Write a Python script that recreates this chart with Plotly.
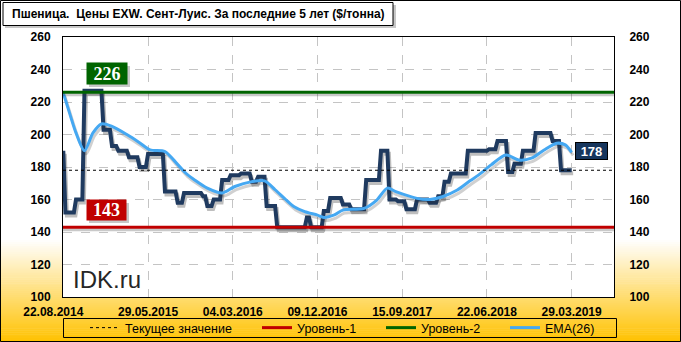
import plotly.graph_objects as go
import pandas as pd

# ---------------- data ----------------
title_text = "Пшеница.  Цены EXW. Сент-Луис. За последние 5 лет ($/тонна)"
start_date = "2014-08-22"

price = [
    190,
    152, 152, 152, 152, 152,
    160, 160, 160, 160,
    227, 227, 227, 227, 227, 227, 227, 227, 227,
    203, 203, 203, 203,
    193, 193, 193,
    190, 190, 190, 190, 190,
    186, 186, 186, 186, 186,
    180, 180, 180, 180,
    188, 188, 188, 188, 188, 188, 188, 188,
    165, 165, 165, 165, 165, 165,
    158, 158, 158,
    164, 164, 164, 164, 164, 164, 164, 164, 164,
    162, 162,
    156, 156, 156,
    160, 160, 160, 160,
    172, 172, 172, 172,
    175, 175, 175, 175, 175,
    176, 176, 176, 176, 176,
    171, 171, 171,
    174, 174, 174, 174,
    156, 156, 156, 156, 156,
    143, 143, 143, 143, 143, 143, 143, 143, 143, 143, 143, 143, 143, 143,
    149, 149,
    143, 143, 143, 143, 143, 143,
    153, 153, 153,
    161, 161, 161, 161, 161, 161,
    157, 157, 157, 157,
    154, 154, 154, 154, 154, 154, 154,
    172, 172, 172, 172, 172, 172, 172,
    190, 190, 190, 190,
    160, 160, 160, 160,
    159, 159, 159, 159,
    154, 154, 154, 154, 154,
    160, 160, 160, 160, 160, 160,
    158, 158, 158, 158,
    162, 162, 162,
    171, 171, 171,
    176, 176, 176, 176, 176, 176, 176, 176,
    190, 190, 190, 190, 190, 190, 190, 190, 190, 190,
    191, 191, 191, 191,
    196, 196, 196, 196, 196,
    177, 177, 177,
    182, 182, 182, 182,
    190, 190, 190, 190, 190, 190,
    201, 201, 201, 201, 201, 201, 201, 201,
    196, 196, 196, 196,
    178, 178, 178, 178, 178, 178,
]

ema_weeks = [0, 3, 6, 10, 14, 18, 23, 30, 36, 41, 48, 53, 58, 62, 68, 75, 81, 89, 95,
             100, 105, 109, 114, 120, 123, 128, 132, 142, 148, 153, 157, 167, 173, 179,
             186, 192, 196, 202, 209, 215, 221, 227, 233, 237, 240]
ema_values = [225.5, 213, 201, 190, 201, 206.5, 205, 200, 195, 190.5, 189.5, 183, 176, 172,
              167, 164, 168, 171, 171.5, 166, 160, 155.5, 152.5, 150.4, 149, 150.5, 153.5,
              154.5, 159.6, 167, 164.8, 160.7, 160, 161.7, 165.8, 171.5, 175, 181.3, 187.4,
              184.3, 185.4, 190.5, 194.6, 193.6, 189]

level1 = 143
level2 = 226
tick_labels = ["22.08.2014", "29.05.2015", "04.03.2016", "09.12.2016",
               "15.09.2017", "22.06.2018", "29.03.2019"]
y_ticks = [100, 120, 140, 160, 180, 200, 220, 240, 260]
legend_names = ["Текущее значение", "Уровень-1", "Уровень-2", "EMA(26)"]
watermark = "IDK.ru"

# ---------------- derived ----------------
dates = pd.date_range(start_date, periods=len(price), freq="7D")
ema_dates = [dates[w] for w in ema_weeks]
current = price[-1]
tickvals = pd.to_datetime(tick_labels, format="%d.%m.%Y")
t0 = pd.Timestamp(start_date)
x_range = [t0 - pd.Timedelta(days=1), t0 + pd.Timedelta(days=1820)]
# first label sits left of its tick in the reference: pad it with no-break spaces
tick_text = [tick_labels[0] + "\u00a0" * 6] + tick_labels[1:]

W_PX, H_PX = 681, 342
L, R, T, B = 63, 67, 37, 45
PW, PH = W_PX - L - R, H_PX - T - B


def pxx(p):
    return (p - L) / PW


def pxy(p):
    return (H_PX - B - p) / PH


NAVY = "#1F3A5F"
BLUE = "#45A8F2"
RED = "#C00000"
GREEN = "#006400"
FONT = "Liberation Sans"
DASH = "3px,3px"

fig = go.Figure()

sh_dx = pd.Timedelta(days=5)
# shadows + main series
fig.add_trace(go.Scatter(x=dates + sh_dx, y=[v - 1.9 for v in price], mode="lines",
                         line=dict(color="rgba(40,40,40,0.30)", width=4),
                         showlegend=False, hoverinfo="skip"))
fig.add_trace(go.Scatter(x=dates, y=price, mode="lines",
                         line=dict(color=NAVY, width=4),
                         showlegend=False, hoverinfo="skip"))
fig.add_trace(go.Scatter(x=[d + sh_dx for d in ema_dates], y=[v - 1.9 for v in ema_values],
                         mode="lines", line=dict(color="rgba(40,40,40,0.22)", width=3,
                                                 shape="spline", smoothing=0.8),
                         showlegend=False, hoverinfo="skip"))
fig.add_trace(go.Scatter(x=ema_dates, y=ema_values, mode="lines", name=legend_names[3],
                         line=dict(color=BLUE, width=3, shape="spline", smoothing=0.8),
                         legend="legend4"))
for lv in (level1, level2):
    fig.add_trace(go.Scatter(x=x_range, y=[lv - 1.6, lv - 1.6], mode="lines",
                             line=dict(color="rgba(40,40,40,0.25)", width=3),
                             showlegend=False, hoverinfo="skip"))
fig.add_trace(go.Scatter(x=x_range, y=[level1, level1], mode="lines", name=legend_names[1],
                         line=dict(color=RED, width=3), legend="legend2"))
fig.add_trace(go.Scatter(x=x_range, y=[level2, level2], mode="lines", name=legend_names[2],
                         line=dict(color=GREEN, width=3), legend="legend3"))
fig.add_trace(go.Scatter(x=x_range, y=[current, current], mode="lines", name=legend_names[0],
                         line=dict(color="black", width=1, dash=DASH), legend="legend"))
# right axis carrier
fig.add_trace(go.Scatter(x=[dates[-1]], y=[current], yaxis="y2", mode="markers",
                         marker=dict(opacity=0), showlegend=False, hoverinfo="skip"))

# ---------------- background shapes ----------------
shapes = []
g_top, g_bot = 240, H_PX
n = 52
for i in range(n):
    y0 = g_top + (g_bot - g_top) * i / n
    y1 = g_top + (g_bot - g_top) * (i + 1) / n + 0.6
    f = (i + 0.5) / n
    r, g, b = 255, int(255 - f * (255 - 194)), int(255 - f * 255)
    shapes.append(dict(type="rect", xref="paper", yref="paper", layer="below",
                       x0=pxx(0), x1=pxx(W_PX), y0=pxy(y1), y1=pxy(y0),
                       fillcolor=f"rgb({r},{g},{b})", line=dict(width=0)))
shapes.append(dict(type="rect", xref="paper", yref="paper", layer="below",
                   x0=0, x1=1, y0=0, y1=1, fillcolor="white", line=dict(width=0)))
shapes.append(dict(type="rect", xref="paper", yref="paper", layer="above",
                   x0=pxx(0.5), x1=pxx(W_PX - 0.5), y0=pxy(H_PX - 0.5), y1=pxy(0.5),
                   line=dict(color="black", width=1)))
shapes.append(dict(type="rect", xref="paper", yref="paper", layer="above",
                   x0=pxx(5), x1=pxx(396), y0=pxy(28), y1=pxy(5),
                   fillcolor="rgba(0,0,0,0.22)", line=dict(width=0)))
shapes.append(dict(type="rect", xref="paper", yref="paper", layer="above",
                   x0=pxx(3), x1=pxx(393), y0=pxy(25.5), y1=pxy(2.5),
                   fillcolor="white", line=dict(color="black", width=1)))
shapes.append(dict(type="rect", xref="paper", yref="paper", layer="above",
                   x0=pxx(63.5), x1=pxx(616.5), y0=pxy(337.5), y1=pxy(318.5),
                   line=dict(color="black", width=1)))
for (x0, x1, y0, y1) in [(89, 130, 66, 87), (89, 129, 203, 223)]:
    shapes.append(dict(type="rect", xref="paper", yref="paper", layer="above",
                       x0=pxx(x0), x1=pxx(x1), y0=pxy(y1), y1=pxy(y0),
                       fillcolor="rgba(0,0,0,0.22)", line=dict(width=0)))

annotations = [
    dict(text=title_text, xref="paper", yref="paper", x=pxx(10), y=pxy(14),
         xanchor="left", yanchor="middle", showarrow=False,
         font=dict(family=FONT, size=12, color="black", weight="bold")),
    dict(text=str(level2), xref="paper", yref="paper", x=pxx(107), y=pxy(73.5),
         xanchor="center", yanchor="middle", showarrow=False, bgcolor=GREEN,
         width=40, height=21, borderpad=0,
         font=dict(family="Liberation Serif", size=18, color="white", weight="bold")),
    dict(text=str(level1), xref="paper", yref="paper", x=pxx(106.5), y=pxy(210),
         xanchor="center", yanchor="middle", showarrow=False, bgcolor=RED,
         width=39, height=20, borderpad=0,
         font=dict(family="Liberation Serif", size=18, color="white", weight="bold")),
    dict(text=str(current), xref="paper", yref="paper", x=pxx(591.5), y=pxy(151),
         xanchor="center", yanchor="middle", showarrow=False, bgcolor="#17365D",
         bordercolor="black", borderwidth=1, width=31, height=16, borderpad=0,
         font=dict(family=FONT, size=13, color="white", weight="bold")),
    dict(text=watermark, xref="paper", yref="paper", x=pxx(71), y=pxy(279),
         xanchor="left", yanchor="middle", showarrow=False,
         font=dict(family=FONT, size=24, color="#262626")),
]

axis_font = dict(family=FONT, size=12, color="black", weight="bold")
legend_font = dict(family=FONT, size=12.5, color="black")


def leg(xp):
    return dict(orientation="h", x=pxx(xp), y=pxy(328), xanchor="left", yanchor="middle",
                bgcolor="rgba(0,0,0,0)", borderwidth=0, font=legend_font)


fig.update_layout(
    width=W_PX, height=H_PX,
    margin=dict(l=L, r=R, t=T, b=B, autoexpand=False),
    paper_bgcolor="white", plot_bgcolor="white",
    shapes=shapes, annotations=annotations,
    showlegend=True,
    legend=leg(85), legend2=leg(257), legend3=leg(381), legend4=leg(505),
    xaxis=dict(type="date", range=x_range, tickvals=tickvals, ticktext=tick_text,
               showgrid=True, gridcolor="#C4C4C4", griddash="dash", gridwidth=1,
               showline=True, mirror=True, linecolor="black", linewidth=1,
               ticks="outside", ticklen=4, tickcolor="rgba(0,0,0,0)",
               tickfont=axis_font, zeroline=False),
    yaxis=dict(range=[y_ticks[0], y_ticks[-1]], tickvals=y_ticks,
               showgrid=True, gridcolor="#C4C4C4", griddash="dash", gridwidth=1,
               showline=True, mirror=True, linecolor="black", linewidth=1,
               ticks="outside", ticklen=9, tickcolor="rgba(0,0,0,0)",
               tickfont=axis_font, zeroline=False),
    yaxis2=dict(range=[y_ticks[0], y_ticks[-1]], tickvals=y_ticks, overlaying="y",
                side="right", showgrid=False, zeroline=False, showline=False,
                ticks="outside", ticklen=12, tickcolor="rgba(0,0,0,0)",
                tickfont=axis_font),
)

fig.write_html("out.html")
